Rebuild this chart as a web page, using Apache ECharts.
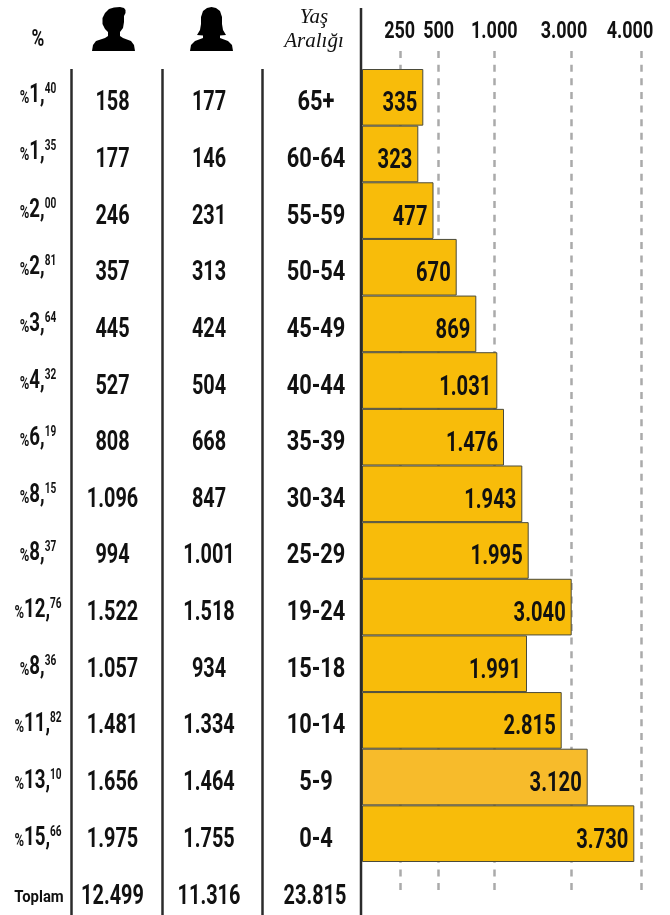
<!DOCTYPE html>
<html><head><meta charset="utf-8">
<style>html,body{margin:0;padding:0;background:#fff}#c{width:670px;height:915px}</style>
<script src="https://cdn.jsdelivr.net/npm/echarts@6/dist/echarts.min.js"></script>
</head><body><div id="c"></div>
<script>
const ageGroups = ['65+','60-64','55-59','50-54','45-49','40-44','35-39','30-34','25-29','19-24','15-18','10-14','5-9','0-4'];
const totals = [335,323,477,670,869,1031,1476,1943,1995,3040,1991,2815,3120,3730];
const male = ['158','177','246','357','445','527','808','1.096','994','1.522','1.057','1.481','1.656','1.975'];
const female = ['177','146','231','313','424','504','668','847','1.001','1.518','934','1.334','1.464','1.755'];
const pctWhole = ['1','1','2','2','3','4','6','8','8','12','8','11','13','15'];
const pctDecimal = ['40','35','00','81','64','32','19','15','37','76','36','82','10','66'];
const tickValues = [250,500,1000,3000,4000];
const tickLabels = ['250','500','1.000','3.000','4.000'];
const footer = ['Toplam','12.499','11.316','23.815'];

// The source axis is not linear: value -> axis unit, as read from its ticks and bars.
const scaleValues = [0,250,323,335,477,500,670,869,1000,1031,1476,1943,1991,1995,2815,3000,3040,3120,3730,4000];
const scaleUnits  = [0,38.7,56.3,61.3,71.5,76.7,94.7,114.3,132.3,135.3,142,160.3,165,166.7,199.7,209,209.7,225.7,272.3,279];
function warp(v){
  for(let i=1;i<scaleValues.length;i++){
    if(v<=scaleValues[i]){
      const t=(v-scaleValues[i-1])/(scaleValues[i]-scaleValues[i-1]);
      return scaleUnits[i-1]+t*(scaleUnits[i]-scaleUnits[i-1]);
    }
  }
  return scaleUnits[scaleUnits.length-1];
}
const FONT = 'Roboto,"Noto Sans",sans-serif';
const INK = '#111';
const BAR = '#F8BC0A', BAR_ALT = '#F7BB2B';
const RULE = '#2b2b2b';
const tickLabelShift = [-1,0,0,-7,-11];

function fmt(v){return v>=1000?Math.floor(v/1000)+'.'+String(v%1000).padStart(3,'0'):String(v);}

function vline(x,y1,y2){
  return {type:'line',z:20,shape:{x1:x,y1,x2:x,y2},style:{stroke:RULE,lineWidth:2.5}};
}
function text(t,x,y,fs,sx,extra){
  return {type:'text',z:20,x,y,scaleX:sx,style:Object.assign({text:t,fill:INK,fontFamily:FONT,fontWeight:'bold',fontSize:fs,align:'center',verticalAlign:'middle'},extra||{})};
}
// one table column: rows follow the category axis, the column stands at a fixed centre
function columnSeries(name,labels,center,sx){
  return {
    type:'custom',name,xAxisIndex:1,yAxisIndex:1,z:5,silent:true,clip:false,
    data:labels.map((_,i)=>[0,i]),
    renderItem:(p,api)=>{
      const pt=api.coord([0,p.dataIndex]);
      return {type:'text',x:center,y:pt[1]+6,scaleX:sx,style:{text:labels[p.dataIndex],fill:INK,fontFamily:FONT,fontWeight:'bold',fontSize:28,align:'center',verticalAlign:'middle'}};
    }
  };
}
const maleShape=[[0,44],[1,38],[4,34],[13,31],[16,29],[16,25],[13,22],[10.5,17],[10.5,11],[13,6],[17,2],[22,0.5],[28,0],[32,1],[33.5,3],[33.5,6],[32,9],[32,15],[31,21],[28,25],[28,29],[31,31],[39,34],[42,38],[43,44]];
const femaleShape=[[0,44],[1,38],[5,34],[13,31],[13,28.5],[7,28],[10,23],[11,17],[11,10],[13,4],[17,1],[21.5,0],[26,1],[30,4],[32,10],[32,17],[33,23],[36,28],[30,28.5],[30,31],[38,34],[42,38],[43,44]];
function icon(points,x){
  return {type:'polygon',z:20,x,y:7,shape:{points},style:{fill:'#000'}};
}

const chart = echarts.init(document.getElementById('c'),null,{renderer:'canvas'});
chart.setOption({
  animation:false, backgroundColor:'#fff',
  grid:[
    {left:362,top:51,width:300,height:841},
    {left:362,top:69,width:300,height:793}
  ],
  xAxis:[
    {type:'value',gridIndex:0,position:'top',min:0,max:300,
     axisLine:{show:false},
     axisTick:{show:false,customValues:tickValues.map(warp)},
     axisLabel:{show:false,customValues:tickValues.map(warp)},
     splitLine:{show:true,lineStyle:{color:'#aaaaaa',width:2.5,type:[7,6.64]}}},
    {type:'value',gridIndex:1,min:0,max:300,show:false,splitLine:{show:false}}
  ],
  yAxis:[
    {type:'category',gridIndex:0,data:ageGroups,show:false},
    {type:'category',gridIndex:1,data:ageGroups,inverse:true,show:false}
  ],
  series:[
    {
      type:'bar',xAxisIndex:1,yAxisIndex:1,barWidth:'100%',name:'Toplam',
      data:totals.map((v,i)=>({value:warp(v),
        itemStyle:{color:i===12?BAR_ALT:BAR,borderColor:'#4a4a3a',borderWidth:1}}))
    },
    {
      type:'custom',name:'bar labels',xAxisIndex:1,yAxisIndex:1,z:5,silent:true,
      data:totals.map((v,i)=>[warp(v),i]),
      renderItem:(p,api)=>{
        const pt=api.coord([api.value(0),p.dataIndex]);
        return {type:'text',x:pt[0]-6,y:pt[1]+7,scaleX:0.72,style:{text:fmt(totals[p.dataIndex]),fill:INK,fontFamily:FONT,fontWeight:'bold',fontSize:28,align:'right',verticalAlign:'middle'}};
      }
    },
    {
      type:'custom',name:'tick labels',xAxisIndex:0,yAxisIndex:0,z:5,silent:true,clip:false,
      data:tickValues.map(v=>[warp(v),0]),
      renderItem:(p,api)=>{
        const pt=api.coord([api.value(0),0]);
        return {type:'text',x:pt[0]+tickLabelShift[p.dataIndex],y:32,scaleX:0.75,style:{text:tickLabels[p.dataIndex],fill:INK,fontFamily:FONT,fontWeight:'bold',fontSize:24,align:'center',verticalAlign:'middle'}};
      }
    },
    columnSeries('Yaş Aralığı',ageGroups,316,0.78),
    columnSeries('Erkek',male,112.5,0.71),
    columnSeries('Kadın',female,209,0.71),
    {
      type:'custom',name:'%',xAxisIndex:1,yAxisIndex:1,z:5,silent:true,clip:false,
      data:pctWhole.map((_,i)=>[0,i]),
      renderItem:(p,api)=>{
        const pt=api.coord([0,p.dataIndex]), i=p.dataIndex;
        const base={fontFamily:FONT,fontWeight:'bold',fill:INK};
        return {type:'text',x:38,y:pt[1]-1.5+i*0.52,scaleX:0.72,style:{
          text:'{p|%}{w|'+pctWhole[i]+',}{d|'+pctDecimal[i]+'}',
          align:'center',verticalAlign:'middle',
          rich:{
            p:Object.assign({fontSize:18,padding:[6,0,0,0]},base),
            w:Object.assign({fontSize:26},base),
            d:Object.assign({fontSize:14,padding:[0,0,12,0]},base)
          }
        }};
      }
    }
  ],
  graphic:[
    vline(71.5,69,915),vline(162.5,69,915),vline(262.5,69,915),vline(361,8,915),
    icon(maleShape,92),icon(femaleShape,190),
    text('%',38,40,24,0.72),
    text('Yaş',314,17,21,1,{fontFamily:'"Liberation Serif",serif',fontWeight:'normal',fontStyle:'italic'}),
    text('Aralığı',314,41,21,1,{fontFamily:'"Liberation Serif",serif',fontWeight:'normal',fontStyle:'italic'}),
    text(footer[0],39,898,16,0.93),
    text(footer[1],112.5,897,28,0.71),
    text(footer[2],209,897,28,0.71),
    text(footer[3],315,897,28,0.71)
  ]
});
</script></body></html>
